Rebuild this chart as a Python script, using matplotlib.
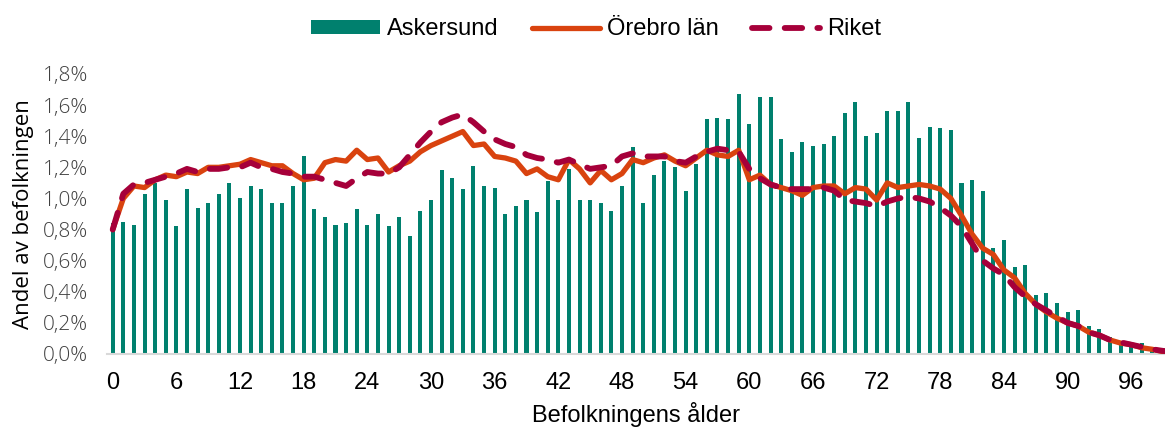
import matplotlib
matplotlib.use("Agg")
import matplotlib.pyplot as plt
from matplotlib.ticker import FuncFormatter, FixedLocator
import numpy as np

ages = list(range(0, 101))

askersund = [
    0.84, 0.85, 0.83, 1.03, 1.10, 0.99, 0.82, 1.06, 0.94, 0.97,
    1.03, 1.10, 1.00, 1.08, 1.06, 0.97, 0.97, 1.08, 1.27, 0.93,
    0.88, 0.83, 0.84, 0.93, 0.83, 0.90, 0.82, 0.88, 0.76, 0.92,
    0.99, 1.18, 1.13, 1.06, 1.21, 1.08, 1.07, 0.90, 0.95, 0.99,
    0.91, 1.11, 0.99, 1.19, 0.99, 0.99, 0.97, 0.92, 1.08, 1.33,
    0.97, 1.15, 1.24, 1.20, 1.05, 1.22, 1.51, 1.52, 1.51, 1.67,
    1.48, 1.65, 1.65, 1.38, 1.30, 1.36, 1.34, 1.35, 1.40, 1.55,
    1.62, 1.40, 1.42, 1.56, 1.56, 1.62, 1.39, 1.46, 1.45, 1.44,
    1.10, 1.12, 1.05, 0.68, 0.73, 0.56, 0.57, 0.38, 0.39, 0.33,
    0.27, 0.28, 0.18, 0.16, 0.11, 0.08, 0.06, 0.07, 0.03, 0.02,
    0.01,
]

orebro_lan = [
    0.80, 1.00, 1.08, 1.07, 1.12, 1.15, 1.14, 1.17, 1.16, 1.20,
    1.20, 1.21, 1.22, 1.25, 1.23, 1.21, 1.21, 1.16, 1.12, 1.13,
    1.23, 1.25, 1.24, 1.31, 1.25, 1.26, 1.17, 1.21, 1.24, 1.30,
    1.34, 1.37, 1.40, 1.43, 1.34, 1.35, 1.27, 1.26, 1.24, 1.16,
    1.19, 1.14, 1.12, 1.25, 1.19, 1.10, 1.18, 1.12, 1.16, 1.25,
    1.23, 1.26, 1.28, 1.24, 1.21, 1.26, 1.31, 1.28, 1.27, 1.31,
    1.12, 1.15, 1.09, 1.07, 1.05, 1.02, 1.07, 1.08, 1.08, 1.03,
    1.07, 1.06, 0.99, 1.10, 1.07, 1.08, 1.09, 1.08, 1.06, 1.00,
    0.89, 0.77, 0.68, 0.64, 0.54, 0.49, 0.39, 0.32, 0.27, 0.23,
    0.20, 0.18, 0.14, 0.12, 0.09, 0.07, 0.06, 0.04, 0.03, 0.015,
    0.01,
]

riket = [
    0.80, 1.03, 1.09, 1.10, 1.12, 1.14, 1.16, 1.19, 1.17, 1.19,
    1.19, 1.20, 1.20, 1.23, 1.20, 1.19, 1.17, 1.16, 1.14, 1.14,
    1.12, 1.10, 1.08, 1.13, 1.17, 1.16, 1.16, 1.20, 1.28, 1.36,
    1.43, 1.49, 1.52, 1.54, 1.49, 1.43, 1.38, 1.35, 1.33, 1.28,
    1.26, 1.25, 1.23, 1.25, 1.22, 1.19, 1.20, 1.21, 1.27, 1.29,
    1.27, 1.27, 1.27, 1.24, 1.23, 1.27, 1.30, 1.32, 1.31, 1.30,
    1.19, 1.13, 1.09, 1.07, 1.06, 1.06, 1.06, 1.07, 1.05, 0.99,
    0.98, 0.97, 0.95, 0.98, 1.00, 1.01, 1.00, 0.98, 0.94, 0.89,
    0.82, 0.71, 0.60, 0.55, 0.51, 0.43, 0.37, 0.32, 0.28, 0.24,
    0.20, 0.18, 0.14, 0.12, 0.09, 0.075, 0.06, 0.045, 0.03, 0.02,
    0.015,
]

x_ticks = list(range(0, 97, 6))
y_ticks = [0.0, 0.2, 0.4, 0.6, 0.8, 1.0, 1.2, 1.4, 1.6, 1.8]

TEAL = "#00806E"
ORANGE = "#D9430F"
CRIMSON = "#A6003A"

plt.rcParams["font.family"] = ["Liberation Sans", "DejaVu Sans"]

fig = plt.figure(figsize=(11.65, 4.30), dpi=100)
ax = fig.add_axes([107.4 / 1165, 1 - 354 / 430, 1 - 107.4 / 1165, (354 - 74) / 430])

b = ax.bar(ages, askersund, width=0.38, color=TEAL, label="Askersund", zorder=2)
l1, = ax.plot(ages, orebro_lan, color=ORANGE, lw=3.8, solid_capstyle="round",
              solid_joinstyle="round", label="Örebro län", zorder=3)
l2, = ax.plot(ages, riket, color=CRIMSON, lw=4.2, dashes=(3.0, 2.6),
              dash_capstyle="round", dash_joinstyle="round", label="Riket", zorder=4)

ax.set_xlim(-0.5, (1165 - 112.7) / 10.61)
ax.set_ylim(0, 1.8)

ax.xaxis.set_major_locator(FixedLocator(x_ticks))
ax.yaxis.set_major_locator(FixedLocator(y_ticks))
ax.yaxis.set_major_formatter(FuncFormatter(lambda v, p: f"{v:.1f}%".replace(".", ",")))

for s in ["top", "right", "left"]:
    ax.spines[s].set_visible(False)
ax.spines["bottom"].set_color("#D9D9D9")
ax.spines["bottom"].set_linewidth(1.5)
ax.tick_params(axis="both", length=0)
ax.tick_params(axis="x", labelsize=17, colors="#000000", pad=13)
ax.tick_params(axis="y", pad=14, labelcolor="#404040")
for lab in ax.get_yticklabels():
    lab.set_fontfamily(["Open Sans", "DejaVu Sans"])
    lab.set_fontweight("light")
    lab.set_fontsize(15)

ax.set_xlabel("Befolkningens ålder", fontsize=17, labelpad=6)
ax.set_ylabel("Andel av befolkningen", fontsize=16, family=["Open Sans", "DejaVu Sans"], labelpad=6)

leg = fig.legend([b, l1, l2], ["Askersund", "Örebro län", "Riket"],
                 loc="center", bbox_to_anchor=(0.512, 0.932), ncol=3, frameon=False,
                 fontsize=17, handlelength=2.9, handletextpad=0.3, columnspacing=1.4,
                 handleheight=0.55)

fig.savefig("out.png", dpi=100)
